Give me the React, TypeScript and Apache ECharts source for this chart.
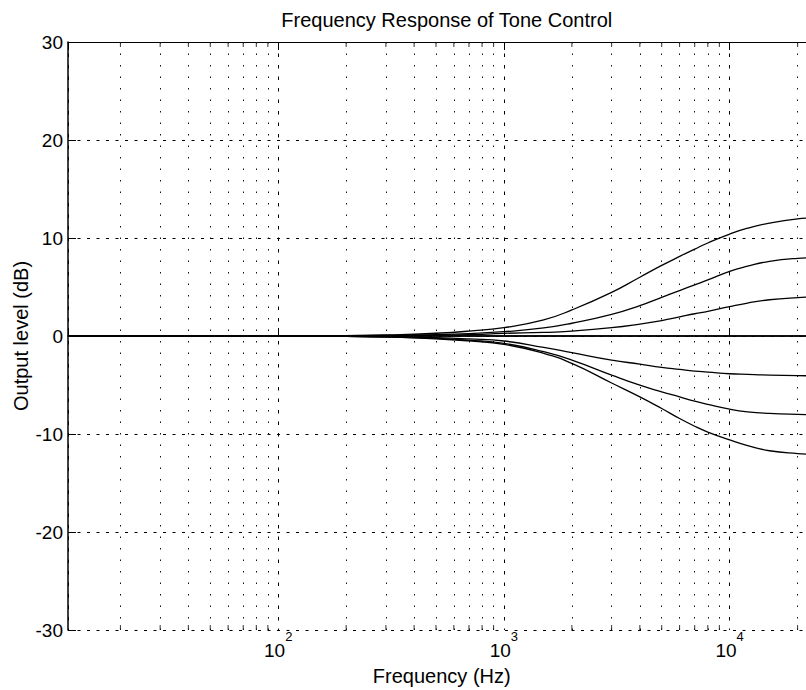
import React, { useEffect, useRef } from 'react';
import * as echarts from 'echarts';

// ---- data ----
const titleText = 'Frequency Response of Tone Control';
const xAxisTitle = 'Frequency (Hz)';
const yAxisTitle = 'Output level (dB)';

const F_MIN = 11.71875;
const F_MAX = 24000;

const freqHz = [11.71875, 100, 200, 300, 500, 700, 1000, 1500, 2000, 3000, 4000, 5000, 6000, 7000, 8000, 10000, 12000, 15000, 20000, 24000];

const boost12 = [0, 0, 0.04, 0.1, 0.28, 0.5, 0.85, 1.64, 2.66, 4.45, 6.0, 7.2, 8.12, 8.87, 9.49, 10.4, 11.0, 11.52, 11.95, 12.05];
const boost8 = [0, 0, 0.02, 0.05, 0.14, 0.25, 0.44, 0.82, 1.3, 2.2, 3.1, 3.95, 4.64, 5.22, 5.72, 6.6, 7.12, 7.62, 7.92, 7.98];
const boost4 = [0, 0, 0.01, 0.03, 0.07, 0.13, 0.27, 0.36, 0.5, 0.85, 1.22, 1.58, 1.95, 2.27, 2.52, 3.0, 3.36, 3.7, 3.92, 3.98];
const flat0 = [0, 0, 0, 0, 0, 0, 0, 0, 0, 0, 0, 0, 0, 0, 0, 0, 0, 0, 0, 0];
const cut4 = [0, 0, -0.03, -0.07, -0.17, -0.3, -0.51, -1.16, -1.7, -2.46, -2.87, -3.2, -3.41, -3.58, -3.68, -3.85, -3.92, -3.99, -4.04, -4.07];
const cut8 = [0, 0, -0.04, -0.09, -0.25, -0.43, -0.75, -1.6, -2.46, -3.99, -5.02, -5.7, -6.21, -6.65, -6.98, -7.47, -7.74, -7.9, -8.0, -8.03];
const cut12 = [0, 0, -0.04, -0.1, -0.28, -0.5, -0.85, -1.77, -2.8, -4.8, -6.21, -7.4, -8.42, -9.21, -9.8, -10.6, -11.18, -11.71, -12.0, -12.08];

const curves = [boost12, boost8, boost4, flat0, cut4, cut8, cut12];

const minorTickHz = [
  20, 30, 40, 50, 60, 70, 80, 90,
  200, 300, 400, 500, 600, 700, 800, 900,
  2000, 3000, 4000, 5000, 6000, 7000, 8000, 9000,
  20000,
];

const Y_MIN = -30;
const Y_MAX = 30;
const Y_STEP = 10;

const FONT = "'Liberation Sans', Arial, Helvetica, sans-serif";

export default function App() {
  const ref = useRef<HTMLDivElement>(null);

  useEffect(() => {
    if (!ref.current) return;
    const chart = echarts.init(ref.current, undefined, { renderer: 'svg' });

    const logLabel = (val: number) => {
      const e = Math.log10(val);
      const r = Math.round(e);
      if (Math.abs(e - r) > 1e-6) return '';
      return `{b|10}{s|${r}}`;
    };

    const lineSeries = curves.map((ys, i) => ({
      type: 'line',
      name: 'c' + i,
      data: freqHz.map((f, j) => [f, ys[j]]),
      showSymbol: false,
      symbol: 'none',
      smooth: 0.5,
      lineStyle: { color: '#000', width: 1.3 },
      silent: true,
      z: 5,
    }));

    const option: any = {
      animation: false,
      backgroundColor: '#ffffff',
      title: {
        text: titleText,
        left: 441.75,
        top: 5,
        textAlign: 'center',
        textStyle: { fontFamily: FONT, fontSize: 20, fontWeight: 'normal', color: '#000' },
      },
      grid: { left: 68, right: -9.5, top: 42, bottom: 60, containLabel: false, outerBoundsMode: 'none' },
      xAxis: [
        {
          type: 'log',
          logBase: 10,
          min: F_MIN,
          max: F_MAX,
          position: 'bottom',
          name: xAxisTitle,
          nameLocation: 'middle',
          nameGap: 36,
          nameMoveOverlap: false,
          nameTextStyle: { fontFamily: FONT, fontSize: 20, color: '#000' },
          axisLine: { show: true, lineStyle: { color: '#000', width: 1.5 } },
          axisTick: { show: true, inside: true, length: 8, lineStyle: { color: '#000', width: 1 } },
          axisLabel: {
            margin: 0,
            formatter: logLabel,
            showMinLabel: true,
            showMaxLabel: true,
            rich: {
              b: { fontFamily: FONT, fontSize: 19, color: '#000', verticalAlign: 'bottom', lineHeight: 30 },
              s: { fontFamily: FONT, fontSize: 13, color: '#000', verticalAlign: 'top', lineHeight: 10 },
            },
          },
          splitLine: { show: true, lineStyle: { color: '#000', width: 1, type: [3.5, 8] } },
        },
        {
          type: 'log',
          logBase: 10,
          min: F_MIN,
          max: F_MAX,
          position: 'top',
          axisLine: { show: true, lineStyle: { color: '#000', width: 1 } },
          axisTick: { show: true, inside: true, length: 8, lineStyle: { color: '#000', width: 1 } },
          axisLabel: { show: false },
          splitLine: { show: false },
        },
      ],
      yAxis: {
        type: 'value',
        min: Y_MIN,
        max: Y_MAX,
        interval: Y_STEP,
        name: yAxisTitle,
        nameLocation: 'middle',
        nameGap: 37,
        nameMoveOverlap: false,
        nameTextStyle: { fontFamily: FONT, fontSize: 20, color: '#000' },
        axisLine: { show: true, lineStyle: { color: '#000', width: 1.5 } },
        axisTick: { show: true, inside: true, length: 8, lineStyle: { color: '#000', width: 1 } },
        axisLabel: { margin: 5, fontFamily: FONT, fontSize: 19, color: '#000' },
        splitLine: { show: true, lineStyle: { color: '#000', width: 1, type: [3, 6.5] } },
      },
      series: [
        {
          type: 'scatter',
          name: 'minorBottom',
          data: minorTickHz.map((f) => [f, Y_MIN]),
          symbol: 'rect',
          symbolSize: [1, 5],
          symbolOffset: [0, -2.5],
          itemStyle: { color: '#000' },
          clip: false,
          silent: true,
          z: 4,
          markLine: {
            silent: true,
            symbol: ['none', 'none'],
            label: { show: false },
            lineStyle: { color: '#111', width: 1, type: [1.5, 10] },
            data: minorTickHz.map((f) => ({ xAxis: f })),
          },
        },
        {
          type: 'scatter',
          name: 'minorTop',
          data: minorTickHz.map((f) => [f, Y_MAX]),
          symbol: 'rect',
          symbolSize: [1, 5],
          symbolOffset: [0, 2.5],
          itemStyle: { color: '#000' },
          clip: false,
          silent: true,
          z: 4,
        },
        ...lineSeries,
      ],
    };

    chart.setOption(option);
    return () => chart.dispose();
  }, []);

  return (
    <div
      ref={ref}
      style={{ position: 'fixed', left: 0, top: 0, width: 806, height: 690, background: '#fff' }}
    />
  );
}
